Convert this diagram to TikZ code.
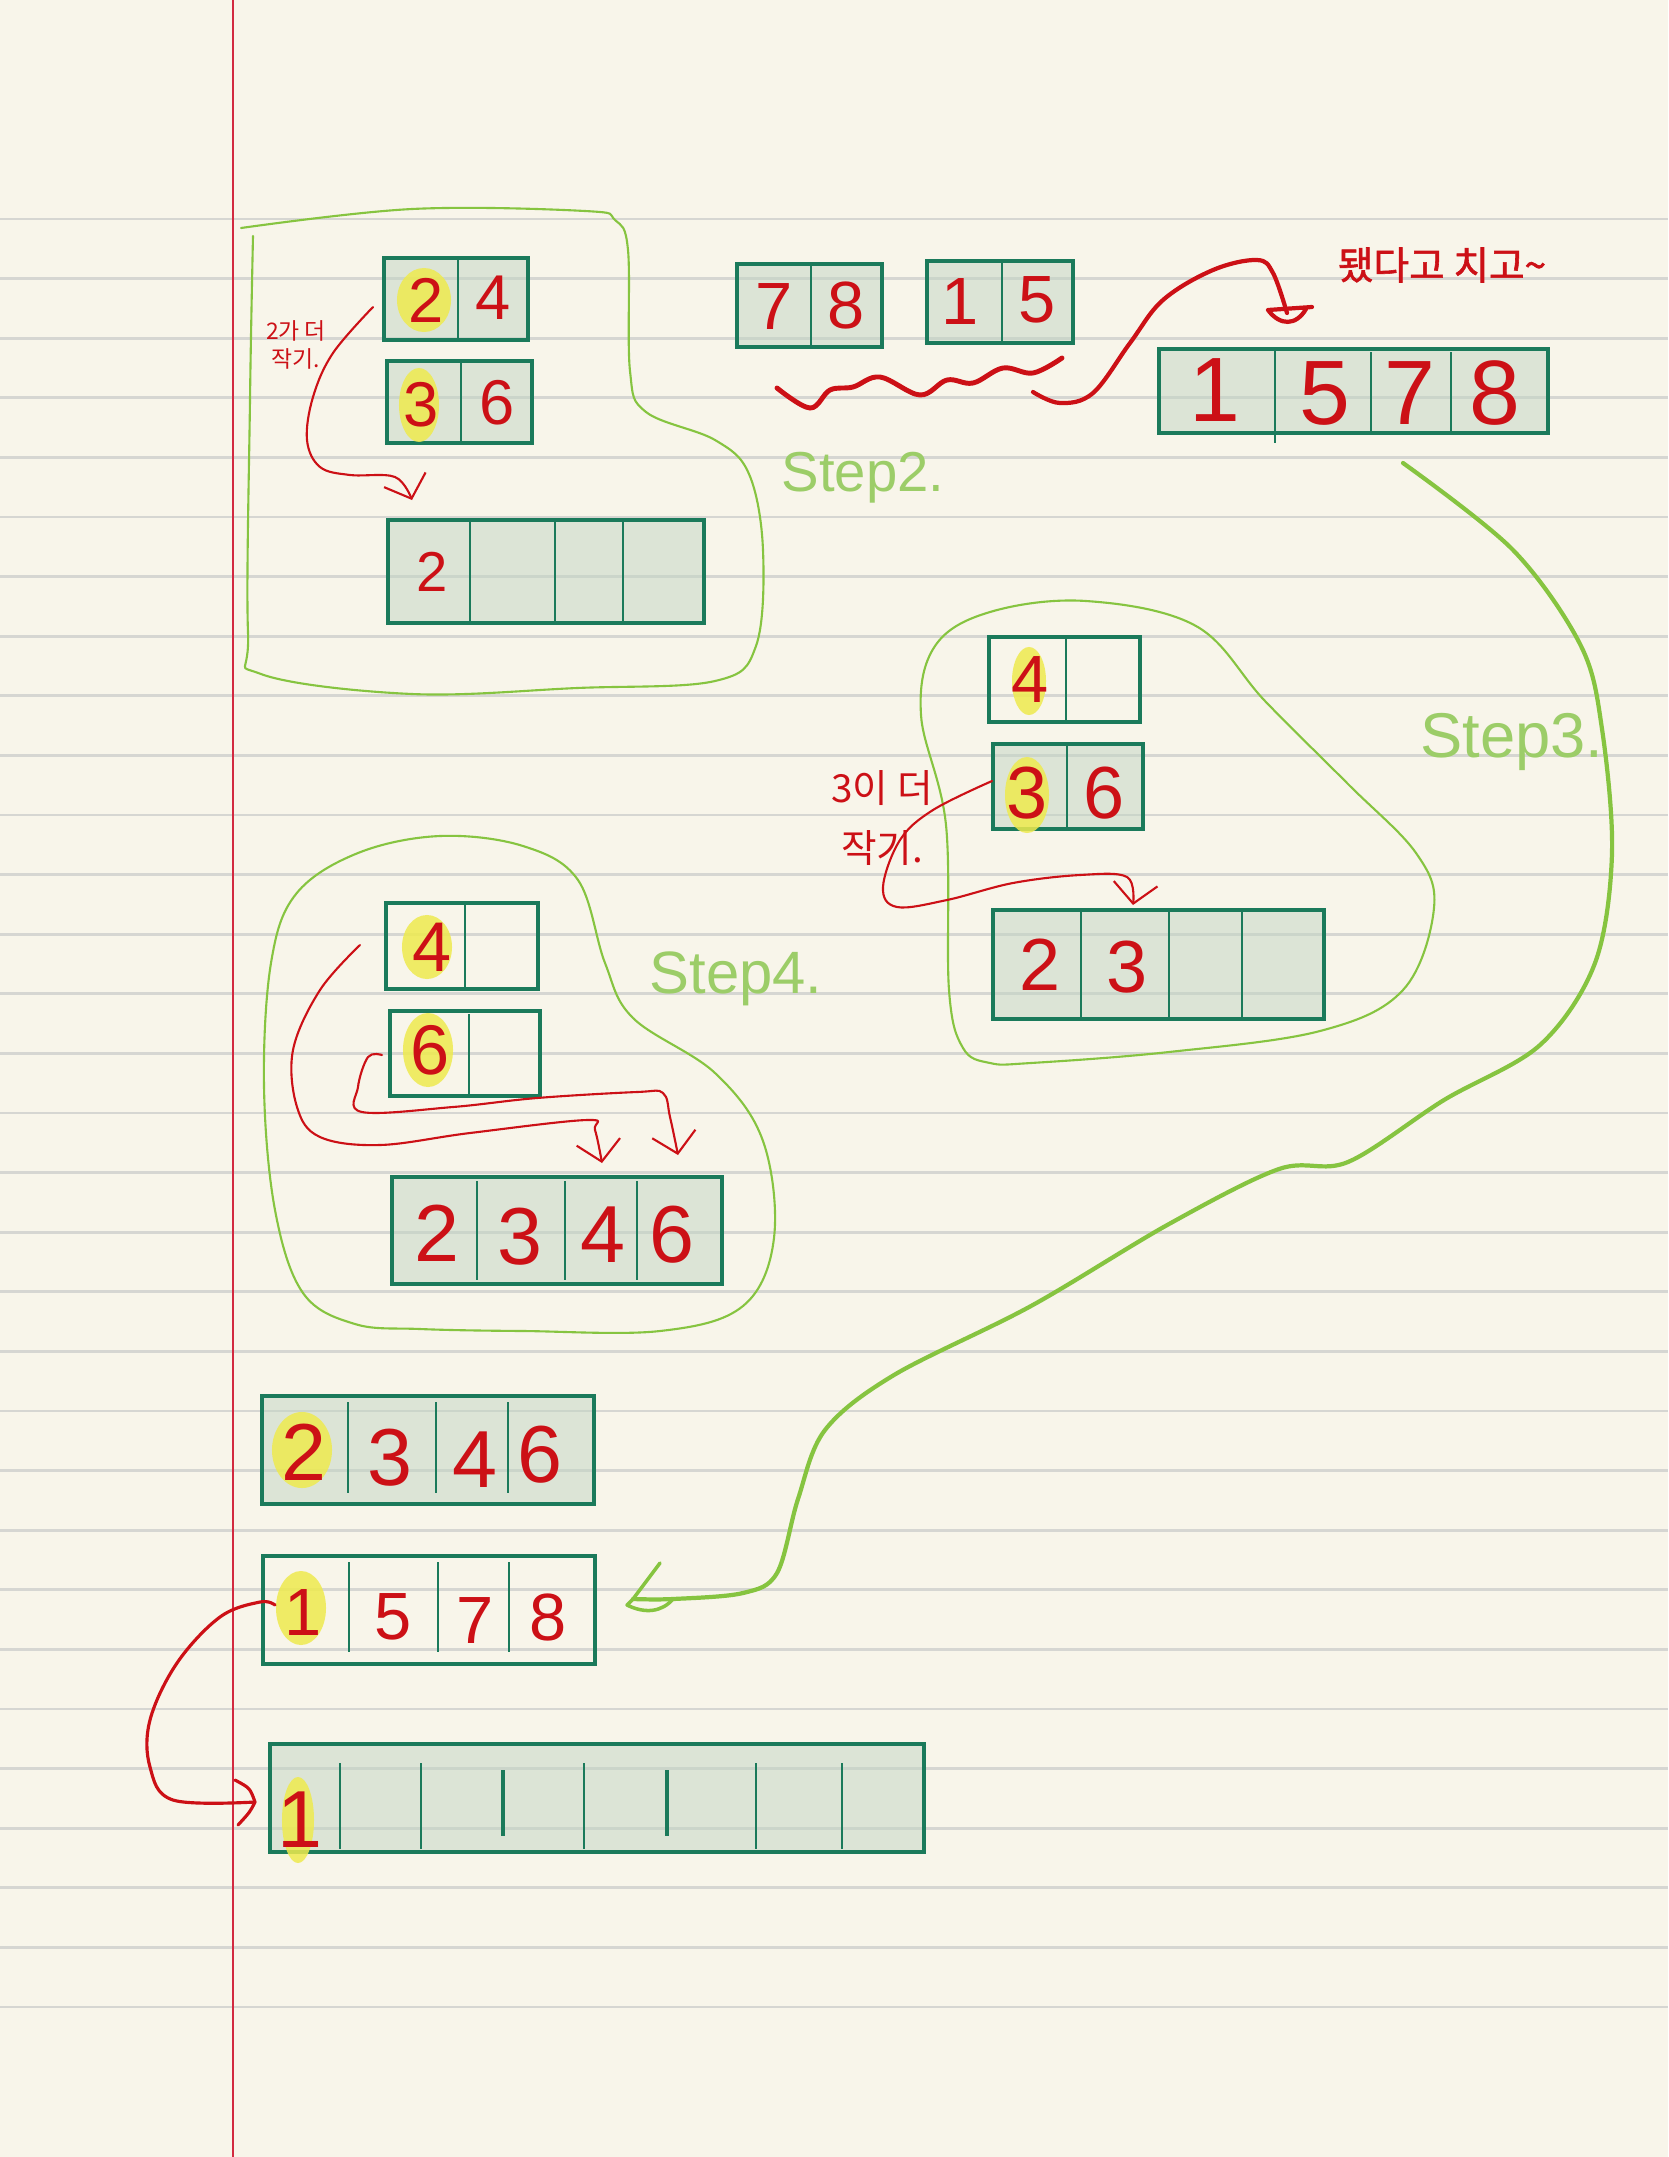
\documentclass[tikz,border=0pt]{standalone}
\usepackage{fontspec}
\setmainfont{Liberation Sans}
\newfontfamily\kr{Noto Sans CJK KR}
\newfontfamily\krb[FakeBold=1.5]{Noto Sans CJK KR}
\usepackage{tikz}
\usetikzlibrary{arrows.meta,fit}
\definecolor{paper}{HTML}{F8F5EA}
\definecolor{rulegray}{HTML}{D6D6D2}
\definecolor{margred}{HTML}{D22A40}
\definecolor{boxgreen}{HTML}{1B7A5B}
\definecolor{cellfill}{HTML}{C2D5C4}
\definecolor{ink}{HTML}{CC1016}
\definecolor{leaf}{HTML}{86C440}
\definecolor{stepgreen}{HTML}{9CCD68}
\definecolor{mark}{HTML}{EEEA4E}

\begin{document}
\begin{tikzpicture}[x=0.01cm, y=-0.01cm,
  arr/.style={draw=boxgreen, line width=1.1pt, fill=cellfill, fill opacity=0.5, inner sep=0pt},
  arrw/.style={draw=boxgreen, line width=1.1pt, inner sep=0pt},
  div/.style={draw=boxgreen, line width=0.6pt},
  num/.style={text=ink, inner sep=0pt, font=\fontsize{#1}{#1}\selectfont},
  num/.default=18,
  hl/.style={fill=mark, opacity=0.85},
  pen/.style={draw=ink, line width=0.6pt, line cap=round, line join=round},
  blob/.style={draw=leaf, line width=0.6pt, line cap=round},
  barb/.style={-{Straight Barb[length=2mm, width=4.4mm]}},
  steplbl/.style={text=stepgreen, inner sep=0pt, font=\fontsize{#1}{#1}\selectfont}]
  \fill[paper] (0,0) rectangle (1668,2157);
  \useasboundingbox (0,0) rectangle (1668,2157);
  \foreach \k in {0,...,30}
    \draw[rulegray, line width=0.8pt] (0,{219+59.6*\k}) -- (1668,{219+59.6*\k});
  \draw[margred, line width=0.7pt] (233,0) -- (233,2157);

  % step 2
  \draw[blob] plot[smooth, tension=0.6] coordinates {(241,228) (412,209) (585,211) (615,220)
    (628,250) (630,371) (646,412) (715,440) (749,474) (763,550) (756,646) (715,681) (577,688)
    (412,694) (261,674) (248,632) (250,400) (253,236)};
  \node[arr, fit={(384,258) (528,340)}] (a24) {};
  \node[arr, fit={(387,361) (532,443)}] (a36) {};
  \node[arr, fit={(388,520) (704,623)}] (a2) {};
  \draw[div] (458,258) -- (458,340);
  \draw[div] (461,361) -- (461,443);
  \foreach \x in {470,555,623} \draw[div] (\x,522) -- (\x,621);
  \fill[hl] (424,300) ellipse (0.27cm and 0.32cm);
  \fill[hl] (419,405) ellipse (0.2cm and 0.37cm);
  \node[num] (n2) at (426,300) {2};
  \node[num] (n4) at (493,298) {4};
  \node[num] (n3) at (421,405) {3};
  \node[num] (n6) at (497,403) {6};
  \node[num=16] (n2b) at (432,572) {2};
  \node[ink, inner sep=0pt, font=\kr\fontsize{6.5}{8}\selectfont, align=center] (small2)
    at (296,345) {2가 더\\작기.};
  \coordinate (p1) at (373,307);
  \coordinate (p2) at (412,500);
  \draw[pen, barb] plot[smooth, tension=0.6] coordinates {(p1) (333,353) (313,397) (307,440)
    (320,467) (350,475) (395,477) (p2)};
  \node[steplbl=16] (st2) at (863,478) {Step2.};

  \node[arr, fit={(737,264) (882,347)}] (a78) {};
  \node[arr, fit={(927,261) (1073,343)}] (a15) {};
  \draw[div] (811,264) -- (811,347);
  \draw[div] (1002,261) -- (1002,343);
  \node[num=19] (n7) at (774,307) {7};
  \node[num=19] (n8) at (846,305) {8};
  \node[num=19] (n1) at (960,302) {1};
  \node[num=19] (n5) at (1037,300) {5};
  \draw[ink, line width=1.4pt, line cap=round] plot[smooth, tension=0.6] coordinates {(777,388)
    (810,408) (830,390) (853,387) (880,377) (920,395) (947,380) (973,383) (1003,368)
    (1033,373) (1062,358)};
  \node[arr, line width=1.4pt, fit={(1159,349) (1548,433)}] (a1578) {};
  \draw[div] (1275,349) -- (1275,443);
  \draw[div] (1371,352) -- (1371,433);
  \draw[div] (1451,352) -- (1451,433);
  \node[num=26] (m1) at (1215,390) {1};
  \node[num=26] (m5) at (1325,393) {5};
  \node[num=26] (m7) at (1410,393) {7};
  \node[num=26] (m8) at (1495,393) {8};
  \coordinate (q1) at (1033,392);
  \coordinate (q2) at (1287,313);
  \draw[ink, line width=1.2pt, line cap=round] plot[smooth, tension=0.6] coordinates {(q1)
    (1060,403) (1093,393) (1130,343) (1163,300) (1213,270) (1257,260) (1273,273) (q2)};
  \draw[ink, line width=1.2pt, line cap=round] (1268,310) -- (1312,307)
    (1268,310) .. controls (1280,326) and (1296,326) .. (1306,309);
  \node[ink, inner sep=0pt, font=\krb\fontsize{11}{13}\selectfont] (done)
    at (1442,265) {됐다고 치고\textasciitilde};

  % step 3
  \draw[blob] plot[smooth cycle, tension=0.6] coordinates {(990,1063) (963,1048) (949,990)
    (946,825) (921,715) (935,646) (990,612) (1086,601) (1196,626) (1265,701) (1348,784)
    (1416,853) (1434,908) (1403,990) (1320,1031) (1169,1052) (1031,1063)};
  \node[arrw, fit={(989,637) (1140,722)}] (b4) {};
  \node[arr, fit={(993,744) (1143,829)}] (b36) {};
  \node[arr, fit={(993,910) (1324,1019)}] (b23) {};
  \draw[div] (1066,637) -- (1066,722);
  \draw[div] (1067,744) -- (1067,829);
  \foreach \x in {1081,1169,1242} \draw[div] (\x,912) -- (\x,1017);
  \fill[hl] (1029,681) ellipse (0.17cm and 0.34cm);
  \fill[hl] (1027,795) ellipse (0.22cm and 0.38cm);
  \node[num=19] (k4) at (1030,680) {4};
  \node[num=21] (k3) at (1027,793) {3};
  \node[num=21] (k6) at (1104,793) {6};
  \node[num=21] (k2) at (1040,965) {2};
  \node[num=21] (k3b) at (1127,967) {3};
  \node[ink, inner sep=0pt, font=\kr\fontsize{11}{17}\selectfont, align=center] (small3)
    at (882,818) {3이 더\\작기.};
  \coordinate (r1) at (992,781);
  \coordinate (r2) at (1133,905);
  \draw[pen, barb] plot[smooth, tension=0.6] coordinates {(r1) (933,810) (900,840) (883,887)
    (897,907) (947,900) (1013,883) (1080,875) (1127,877) (r2)};
  \node[steplbl=18] (st3) at (1512,742) {Step3.};

  \coordinate (g1) at (1403,463);
  \coordinate (g2) at (633,1599);
  \draw[leaf, line width=1.2pt, line cap=round] plot[smooth, tension=0.55] coordinates {(g1)
    (1513,550) (1581,646) (1602,729) (1612,853) (1595,963) (1540,1045) (1444,1100)
    (1348,1162) (1279,1169) (1169,1224) (1031,1306) (894,1375) (825,1430) (798,1499)
    (777,1573) (743,1593) (673,1599) (g2)};
  \draw[leaf, line width=1pt, line cap=round, line join=round] (g2) -- (660,1563)
    (g2) -- (627,1605) .. controls (645,1614) and (662,1612) .. (673,1599);

  % step 4
  \draw[blob] plot[smooth cycle, tension=0.6] coordinates {(355,1324) (303,1293) (275,1210)
    (264,1086) (271,963) (296,894) (358,853) (440,836) (523,846) (578,880) (605,963)
    (633,1018) (715,1073) (763,1141) (774,1238) (743,1306) (660,1331) (523,1331) (420,1329)};
  \node[arrw, fit={(386,903) (538,989)}] (c4) {};
  \node[arrw, fit={(390,1011) (540,1096)}] (c6) {};
  \node[arr, fit={(392,1177) (722,1284)}] (c2346) {};
  \draw[div] (465,903) -- (465,989);
  \draw[div] (469,1014) -- (469,1096);
  \foreach \x in {477,565,637} \draw[div] (\x,1181) -- (\x,1280);
  \fill[hl] (427,947) ellipse (0.25cm and 0.32cm);
  \fill[hl] (428,1050) ellipse (0.25cm and 0.37cm);
  \node[num=20] (h4) at (432,947) {4};
  \node[num=20] (h6) at (430,1050) {6};
  \node[num=23] (h2) at (437,1233) {2};
  \node[num=23] (h3) at (520,1237) {3};
  \node[num=23] (h4b) at (603,1235) {4};
  \node[num=23] (h6b) at (672,1235) {6};
  \coordinate (u1) at (360,945);
  \coordinate (u2) at (602,1163);
  \draw[pen, barb] plot[smooth, tension=0.6] coordinates {(u1) (320,990) (293,1050) (297,1107)
    (320,1137) (380,1145) (470,1133) (587,1120) (595,1130) (u2)};
  \coordinate (v1) at (382,1055);
  \coordinate (v2) at (678,1155);
  \draw[pen, barb] plot[smooth, tension=0.6] coordinates {(v1) (368,1057) (358,1087) (362,1112)
    (453,1107) (537,1098) (637,1092) (663,1093) (670,1117) (v2)};
  \node[steplbl=17] (st4) at (736,979) {Step4.};

  % merge
  \node[arr, fit={(262,1396) (594,1504)}] (d2346) {};
  \node[arrw, fit={(263,1556) (595,1664)}] (d1578) {};
  \foreach \x in {348,436,508} \draw[div] (\x,1402) -- (\x,1493);
  \foreach \x in {349,438,509} \draw[div] (\x,1562) -- (\x,1652);
  \fill[hl] (302,1450) ellipse (0.3cm and 0.38cm);
  \fill[hl] (301,1608) ellipse (0.25cm and 0.37cm);
  \node[num=23] (w2) at (304,1452) {2};
  \node[num=23] (w3) at (390,1458) {3};
  \node[num=23] (w4) at (475,1460) {4};
  \node[num=23] (w6) at (540,1455) {6};
  \node[num=19] (x1) at (303,1612) {1};
  \node[num=19] (x5) at (393,1617) {5};
  \node[num=19] (x7) at (475,1620) {7};
  \node[num=19] (x8) at (548,1617) {8};

  \node[arr, line width=1.4pt, fit={(270,1744) (924,1852)}] (out) {};
  \foreach \x in {340,421,584,756,842} \draw[div] (\x,1763) -- (\x,1849);
  \foreach \x in {503,667} \draw[div, line width=0.9pt] (\x,1770) -- (\x,1836);
  \fill[hl] (298,1820) ellipse (0.16cm and 0.43cm);
  \node[num=23] (o1) at (300,1820) {1};
  \coordinate (z1) at (275,1605);
  \coordinate (z2) at (255,1802);
  \draw[ink, line width=0.9pt, line cap=round] plot[smooth, tension=0.6] coordinates {(z1)
    (260,1602) (220,1617) (177,1663) (150,1720) (150,1767) (173,1800) (z2)};
  \draw[ink, line width=0.9pt, line cap=round, line join=round] (235,1780)
    .. controls (250,1788) .. (z2) .. controls (250,1812) .. (238,1825);
\end{tikzpicture}
\end{document}
